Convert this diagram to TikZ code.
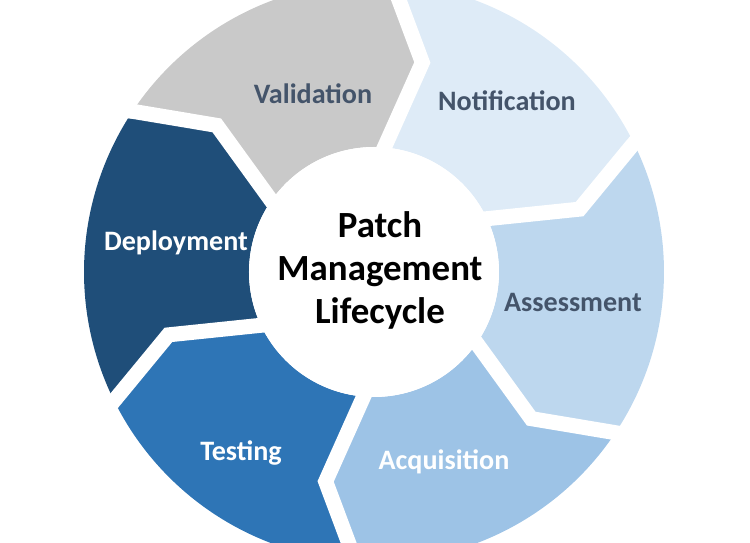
\documentclass[tikz,border=0pt]{standalone}
\usepackage{fontspec}
\setmainfont{Carlito}
\usepackage{xcolor}
\usetikzlibrary{positioning}

\definecolor{valgray}{HTML}{C9C9C9}
\definecolor{notblue}{HTML}{DEEBF7}
\definecolor{assblue}{HTML}{BDD7EE}
\definecolor{acqblue}{HTML}{9DC3E6}
\definecolor{tstblue}{HTML}{2E75B6}
\definecolor{depblue}{HTML}{1F4E79}
\definecolor{slate}{HTML}{44546A}

\begin{document}
\begin{tikzpicture}[
    seglabel/.style={font=\fontsize{16}{19}\selectfont\bfseries, inner sep=0pt},
    gapline/.style={white, line width=0.3cm, line join=miter},
]
\useasboundingbox (-7.48,-5.42) rectangle (7.52,5.44);
\clip (-7.48,-5.42) rectangle (7.52,5.44);
\def\rin{2.5}
\def\rout{5.8}
\def\rmid{4.3}

% Chevron segments (tip angle of start edge / colour)
\foreach \a/\col in {
  137/valgray, 77/notblue, 17/assblue,
  -43/acqblue, -103/tstblue, -163/depblue} {
  \pgfmathsetmacro{\b}{\a-60}
  \pgfmathsetmacro{\ao}{\a+11}
  \pgfmathsetmacro{\bo}{\b+11}
  \fill[\col] (\ao:\rout) arc[start angle=\ao, end angle=\bo, radius=\rout]
    -- (\b:\rmid) -- (\bo:\rin)
    arc[start angle=\bo, end angle=\ao, radius=\rin]
    -- (\a:\rmid) -- cycle;
}

% White gaps between segments
\foreach \t in {137, 77, 17, -43, -103, -163} {
  \pgfmathsetmacro{\to}{\t+11}
  \draw[gapline] (\to:\rout+0.4) -- (\t:\rmid) -- (\to:\rin-0.3);
}

% Hub
\fill[white] (0,0) circle (\rin);
\node[font=\fontsize{21}{24.5}\selectfont\bfseries, align=center,
  inner sep=0pt] (title) at (0.12,0.03)
  {Patch\\Management\\Lifecycle};

% Stage labels
\node[seglabel, text=slate] (validation) at (-1.22,3.56) {Validation};
\node[seglabel, text=slate] (notification) at (2.66,3.42) {Notification};
\node[seglabel, text=slate] (assessment) at (3.98,-0.6) {Assessment};
\node[seglabel, text=white] (acquisition) at (1.4,-3.8) {Acquisition};
\node[seglabel, text=white] (testing) at (-2.66,-3.62) {Testing};
\node[seglabel, text=white] (deployment) at (-3.96,0.58) {Deployment};

\end{tikzpicture}
\end{document}
